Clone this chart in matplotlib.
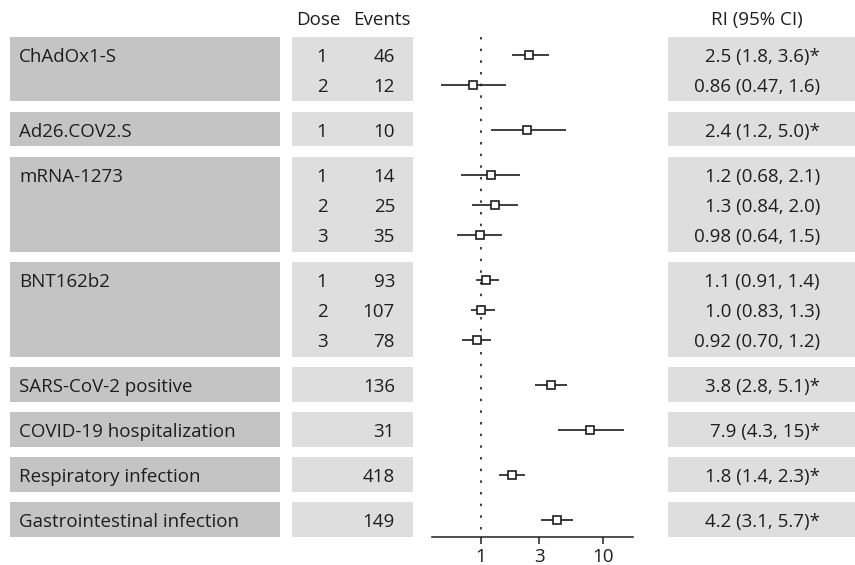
import matplotlib.pyplot as plt

plt.rcParams['font.family'] = ['Open Sans', 'DejaVu Sans']

# data
groups = ["ChAdOx1-S", "Ad26.COV2.S", "mRNA-1273", "BNT162b2",
          "SARS-CoV-2 positive", "COVID-19 hospitalization",
          "Respiratory infection", "Gastrointestinal infection"]
group_sizes = [2, 1, 3, 3, 1, 1, 1, 1]
doses = ["1", "2", "1", "1", "2", "3", "1", "2", "3", "", "", "", ""]
events = [46, 12, 10, 14, 25, 35, 93, 107, 78, 136, 31, 418, 149]
ri = [2.5, 0.86, 2.4, 1.2, 1.3, 0.98, 1.1, 1.0, 0.92, 3.8, 7.9, 1.8, 4.2]
ci_lo = [1.8, 0.47, 1.2, 0.68, 0.84, 0.64, 0.91, 0.83, 0.70, 2.8, 4.3, 1.4, 3.1]
ci_hi = [3.6, 1.6, 5.0, 2.1, 2.0, 1.5, 1.4, 1.3, 1.2, 5.1, 15, 2.3, 5.7]
ri_text = ["2.5 (1.8, 3.6)*", "0.86 (0.47, 1.6)", "2.4 (1.2, 5.0)*",
           "1.2 (0.68, 2.1)", "1.3 (0.84, 2.0)", "0.98 (0.64, 1.5)",
           "1.1 (0.91, 1.4)", "1.0 (0.83, 1.3)", "0.92 (0.70, 1.2)",
           "3.8 (2.8, 5.1)*", "7.9 (4.3, 15)*", "1.8 (1.4, 2.3)*",
           "4.2 (3.1, 5.7)*"]
xticks = [1, 3, 10]

# row positions: 1 unit per row, extra half unit between groups
rows = []
group_span = []
y = 0.0
for n in group_sizes:
    start = y
    for i in range(n):
        rows.append(y)
        y += 1
    group_span.append((start, y - 1))
    y += 0.5

W, H = 855, 565
px = 30.0      # pixels per row unit
top_px = 55.0  # pixel of first row
fig = plt.figure(figsize=(W / 100, H / 100), dpi=100)

y_top = -top_px / px
y_bot = (H - top_px) / px
ax = fig.add_axes([0, 0, 1, 1])
ax.set_xlim(0, W)
ax.set_ylim(y_bot, y_top)
ax.axis('off')

dark = '#c4c4c4'
light = '#dedede'
tc = '#1e1e1e'
fs = 13.5
pad_top, pad_bot = 0.6, 0.55
base = 0.24

for g, (a, b) in zip(groups, group_span):
    y0, y1 = a - pad_top, b + pad_bot
    ax.fill_between([10, 280], y0, y1, color=dark, lw=0)
    ax.fill_between([292, 413], y0, y1, color=light, lw=0)
    ax.fill_between([668, W], y0, y1, color=light, lw=0)
    ax.text(19, a + base, g, fontsize=fs, color=tc, va='baseline', ha='left')

for r, d, e, t in zip(rows, doses, events, ri_text):
    ax.text(322, r + base, d, fontsize=fs, color=tc, va='baseline', ha='center')
    ax.text(395, r + base, str(e), fontsize=fs, color=tc, va='baseline', ha='right')
    ax.text(820, r + base, t, fontsize=fs, color=tc, va='baseline', ha='right')

hy = (18 - top_px) / px + base
ax.text(318, hy, "Dose", fontsize=fs, color=tc, va='baseline', ha='center')
ax.text(382, hy, "Events", fontsize=fs, color=tc, va='baseline', ha='center')
ax.text(757, hy, "RI (95% CI)", fontsize=fs, color=tc, va='baseline', ha='center')

# forest panel
axis_px = 537
fx0, fx1 = 432, 633
fa = fig.add_axes([fx0 / W, (H - axis_px) / H, (fx1 - fx0) / W, axis_px / H])
fa.patch.set_alpha(0)
fa.set_xscale('log')
fa.set_xlim(0.395, 17.8)
fa.set_ylim((axis_px - top_px) / px, y_top)
for s in ['top', 'left', 'right']:
    fa.spines[s].set_visible(False)
fa.spines['bottom'].set_color(tc)
fa.spines['bottom'].set_linewidth(1.1)
fa.set_yticks([])
fa.set_xticks(xticks)
fa.set_xticklabels([str(v) for v in xticks])
fa.minorticks_off()
fa.tick_params(axis='x', length=5, width=1.1, color=tc, labelsize=fs,
               labelcolor=tc, pad=3)

fa.vlines(1, rows[0] - pad_top, (axis_px - top_px) / px, color=tc,
          lw=1.2, linestyles=(0, (1.5, 5.5)))
fa.hlines(rows, ci_lo, ci_hi, color=tc, lw=1.2)
fa.plot(ri, rows, 's', ms=5.8, mfc='white', mec=tc, mew=1.2, ls='none')

fig.savefig('out.png', dpi=100)
